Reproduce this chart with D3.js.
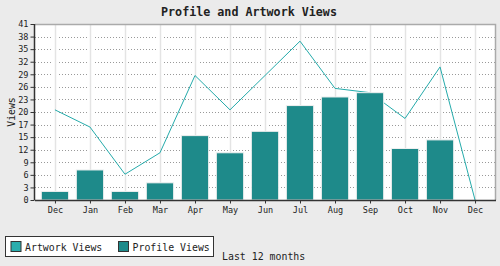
<!DOCTYPE html>
<html><head><meta charset="utf-8">
<script src="https://cdn.jsdelivr.net/npm/d3@7"></script>
<style>body{margin:0;background:#ebebeb;}svg{display:block;}</style>
</head><body>
<svg id="c" width="500" height="266"></svg>
<script>
const months = ["Dec","Jan","Feb","Mar","Apr","May","Jun","Jul","Aug","Sep","Oct","Nov","Dec"];
const artworkViews = [21,17,6,11,29,21,29,37,26,25,19,31,0];
const profileViews = [2,7,2,4,15,11,16,22,24,25,12,14,0];
const yTickLabels = ["0","3","6","9","12","15","17","20","23","26","29","32","35","38","41"];
const yMax = 41;

const font = "'DejaVu Sans Mono', 'Liberation Mono', monospace";
const svg = d3.select("#c");
const L = 35, R = 495, T = 24, B = 200;
const idx = months.map((d,i)=>i);
const x = d3.scalePoint().domain(idx).range([L, R]).padding(0.57);
const y = d3.scaleLinear().domain([0, yMax]).range([B, T]);
const yTicks = yTickLabels.map((d,i)=> yMax*i/(yTickLabels.length-1));

svg.append("rect").attr("x",0).attr("y",0).attr("width",500).attr("height",266).attr("fill","#ebebeb");
svg.append("rect").attr("x",L).attr("y",T).attr("width",R-L).attr("height",B-T).attr("fill","#fff");

// horizontal dotted grid
svg.append("g").selectAll("line").data(yTicks.slice(1)).join("line")
  .attr("x1",L).attr("x2",R).attr("y1",d=>Math.round(y(d))+0.5).attr("y2",d=>Math.round(y(d))+0.5)
  .attr("stroke","#999").attr("stroke-dasharray","1,2");
// vertical grid
const vg = svg.append("g");
vg.selectAll("line.w").data(idx).join("line").attr("class","w")
  .attr("x1",d=>Math.round(x(d))+0.5).attr("x2",d=>Math.round(x(d))+0.5).attr("y1",T+1).attr("y2",B)
  .attr("stroke","#fff").attr("stroke-width",5);
vg.selectAll("line.g").data(idx).join("line").attr("class","g")
  .attr("x1",d=>Math.round(x(d))+0.5).attr("x2",d=>Math.round(x(d))+0.5).attr("y1",T+1).attr("y2",B)
  .attr("stroke","#e4e4e4").attr("stroke-width",1.5);

// top/right border
svg.append("path").attr("d",`M${L},${T+0.5}H${R+0.5}V${B}`).attr("fill","none").attr("stroke","#aaa").attr("stroke-width",1.5);

// line
const line = d3.line().x((d,i)=>x(i)).y(d=>y(d));
svg.append("path").datum(artworkViews).attr("d",line).attr("fill","none")
  .attr("stroke","#25abab").attr("stroke-width",1);

// bars
const bw = x.step()*0.78;
svg.append("g").selectAll("rect").data(profileViews).join("rect")
  .attr("x",(d,i)=>x(i)-bw/2).attr("width",bw)
  .attr("y",d=>y(d)).attr("height",d=>B-y(d))
  .attr("fill","#1e8a8a").attr("stroke","#f0f0f0").attr("stroke-width",1)
  .style("display",d=>d>0?null:"none");

// axes
const ya = svg.append("g").attr("transform",`translate(${L-0.5},0)`)
  .call(d3.axisLeft(y).tickValues(yTicks).tickFormat((d,i)=>yTickLabels[i]).tickSize(4).tickPadding(2));
const xa = svg.append("g").attr("transform",`translate(0,${B+0.5})`)
  .call(d3.axisBottom(x).tickFormat(i=>months[i]).tickSize(3).tickPadding(3));
[ya,xa].forEach(a=>{
  a.select(".domain").attr("stroke","#333").attr("stroke-width",1.5);
  a.selectAll(".tick line").attr("stroke","#333");
  a.selectAll("text").attr("fill","#222").style("font-family",font).style("font-size","8.5px");
});
xa.select(".domain").attr("d",`M${L},0H${R+1}`);
ya.select(".domain").attr("d",`M0,${B}V${T}`);

// title
svg.append("text").attr("x",249).attr("y",16).attr("text-anchor","middle")
  .style("font-family",font).style("font-size","11.7px").style("font-weight","bold").attr("fill","#222")
  .text("Profile and Artwork Views");
// y label
svg.append("text").attr("transform","translate(15,112) rotate(-90)").attr("text-anchor","middle")
  .style("font-family",font).style("font-size","9.8px").attr("fill","#222").text("Views");

// legend
const lg = svg.append("g");
lg.append("rect").attr("x",5.5).attr("y",236.5).attr("width",208).attr("height",20)
  .attr("fill","#fff").attr("stroke","#333").attr("stroke-width",1);
const legItems = [{name:"Artwork Views",color:"#2aadad",sx:11,tx:25},{name:"Profile Views",color:"#1e8a8a",sx:118.5,tx:132.5}];
legItems.forEach(it=>{
  lg.append("rect").attr("x",it.sx).attr("y",241.5).attr("width",10).attr("height",10)
    .attr("fill",it.color).attr("stroke","#333").attr("stroke-width",1);
  lg.append("text").attr("x",it.tx).attr("y",250.5)
    .style("font-family",font).style("font-size","9.9px").attr("fill","#222").text(it.name);
});
svg.append("text").attr("x",222).attr("y",259.5)
  .style("font-family",font).style("font-size","9.9px").attr("fill","#222").text("Last 12 months");
</script>
</body></html>
